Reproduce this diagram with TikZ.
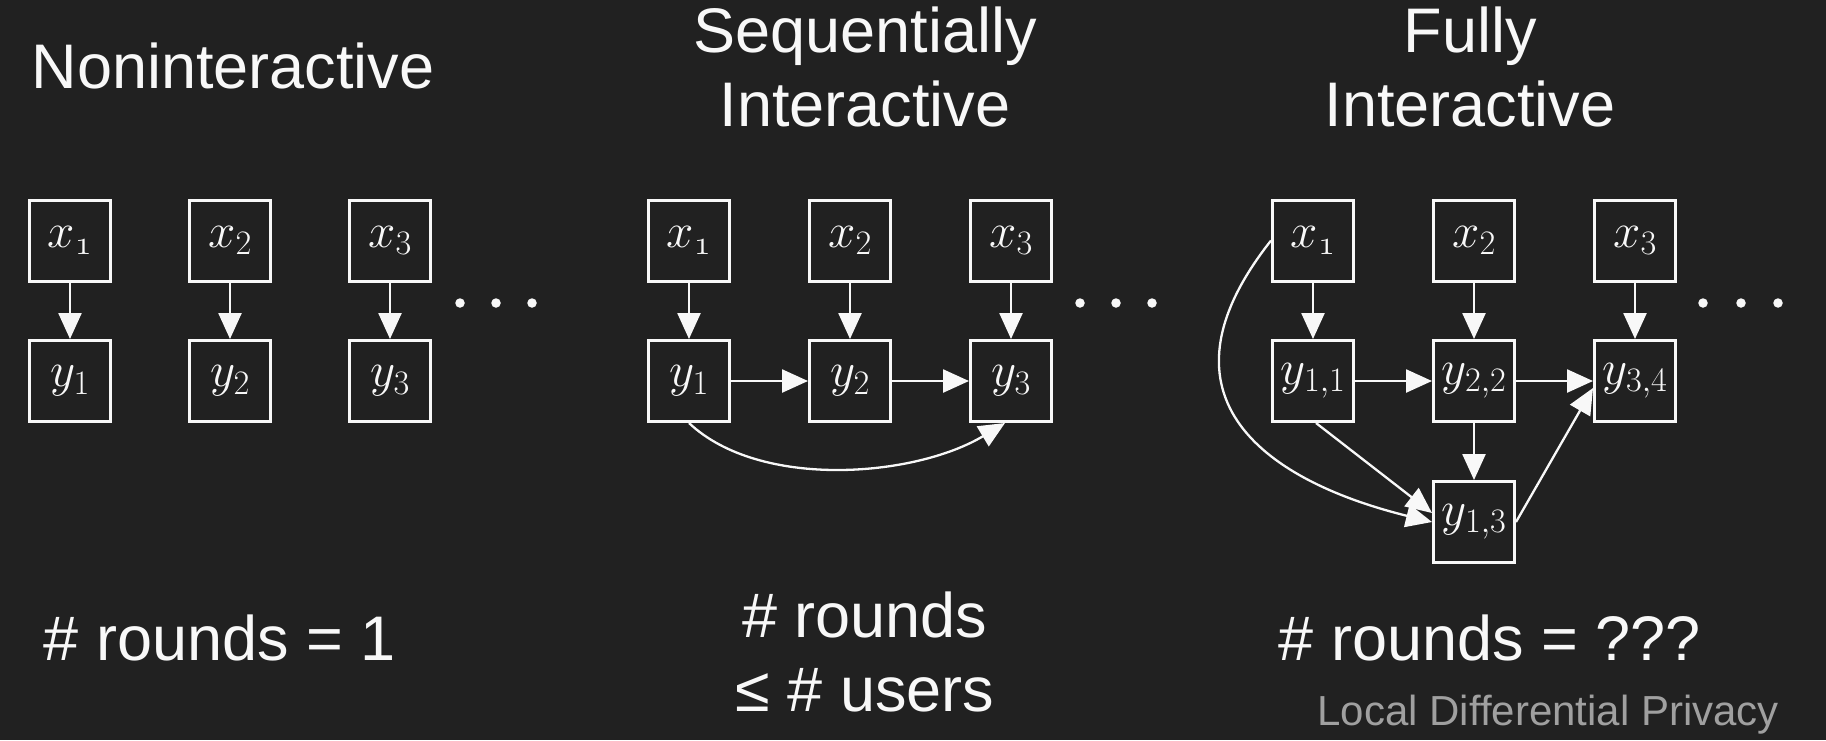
\RequirePackage{fix-cm}
\documentclass[tikz,border=0pt]{standalone}
\usepackage[no-math]{fontspec}
\setmainfont{Liberation Sans}
\usetikzlibrary{arrows.meta}
\definecolor{bg}{RGB}{33,33,33}
\definecolor{fg}{RGB}{248,248,248}
\definecolor{capc}{RGB}{160,160,160}
\begin{document}
\begin{tikzpicture}[x=1pt,y=-1pt,
  box/.style={draw=fg, line width=3pt, fill=bg, text=fg, minimum width=81pt, minimum height=81pt, inner sep=0pt, font=\fontsize{49}{54}\selectfont},
  arr/.style={draw=fg, line width=2.5pt, -{Triangle[length=26pt,width=23pt]}},
  carr/.style={draw=fg, line width=2.3pt, -{Triangle[length=26pt,width=23pt]}},
  title/.style={text=fg, font=\fontsize{63}{74}\selectfont, anchor=base, inner sep=0pt},
  dotn/.style={circle, fill=fg, minimum size=9.5pt, inner sep=0pt}]
\fill[bg] (0,0) rectangle (1826,740);
\useasboundingbox (0,0) rectangle (1826,740);

% ---------- Noninteractive ----------
\node[title] (ta) at (233,88) {Noninteractive};
\node[box] (a-x1) at (70,240.5) {$x_{\mathnormal{1}}$};
\node[box] (a-x2) at (230,240.5) {$x_2$};
\node[box] (a-x3) at (390,240.5) {$x_3$};
\node[box] (a-y1) at (70,381) {$y_1$};
\node[box] (a-y2) at (230,381) {$y_2$};
\node[box] (a-y3) at (390,381) {$y_3$};
\draw[arr] (a-x1) -- (a-y1);
\draw[arr] (a-x2) -- (a-y2);
\draw[arr] (a-x3) -- (a-y3);
\node[dotn] (a-d1) at (460,303) {};
\node[dotn] (a-d2) at (496,303) {};
\node[dotn] (a-d3) at (532,303) {};
\node[title] (ra) at (220,660) {\# rounds = 1};

% ---------- Sequentially Interactive ----------
\node[title] (tb1) at (865,52) {Sequentially};
\node[title] (tb2) at (865,126) {Interactive};
\node[box] (b-x1) at (689,240.5) {$x_{\mathnormal{1}}$};
\node[box] (b-x2) at (850,240.5) {$x_2$};
\node[box] (b-x3) at (1011,240.5) {$x_3$};
\node[box] (b-y1) at (689,381) {$y_1$};
\node[box] (b-y2) at (850,381) {$y_2$};
\node[box] (b-y3) at (1011,381) {$y_3$};
\draw[arr] (b-x1) -- (b-y1);
\draw[arr] (b-x2) -- (b-y2);
\draw[arr] (b-x3) -- (b-y3);
\draw[arr] (b-y1) -- (b-y2);
\draw[arr] (b-y2) -- (b-y3);
\draw[carr] (b-y1.south) .. controls (760,490) and (915,477) .. ([xshift=-6pt]b-y3.south);
\node[dotn] (b-d1) at (1080,303) {};
\node[dotn] (b-d2) at (1116,303) {};
\node[dotn] (b-d3) at (1152,303) {};
\node[title] (rb1) at (865,637) {\# rounds};
\node[title] (rb2) at (865,711) {≤ \# users};

% ---------- Fully Interactive ----------
\node[title] (tc1) at (1470,52) {Fully};
\node[title] (tc2) at (1470,126) {Interactive};
\node[box] (c-x1) at (1313,240.5) {$x_{\mathnormal{1}}$};
\node[box] (c-x2) at (1474,240.5) {$x_2$};
\node[box] (c-x3) at (1635,240.5) {$x_3$};
\node[box] (c-y11) at (1313,381) {$y_{1,1}$};
\node[box] (c-y22) at (1474,381) {$y_{2,2}$};
\node[box] (c-y34) at (1635,381) {$y_{3,4}$};
\node[box] (c-y13) at (1474,522) {$y_{1,3}$};
\draw[arr] (c-x1) -- (c-y11);
\draw[arr] (c-x2) -- (c-y22);
\draw[arr] (c-x3) -- (c-y34);
\draw[arr] (c-y11) -- (c-y22);
\draw[arr] (c-y22) -- (c-y34);
\draw[arr] (c-y22) -- (c-y13);
\draw[carr] ([xshift=3pt]c-y11.south) -- ([yshift=9pt]c-y13.west);
\draw[carr] (c-x1.west) .. controls (1145,400) and (1270,482) .. (c-y13.west);
\draw[carr] (c-y13.east) -- ([yshift=-7pt]c-y34.west);
\node[dotn] (c-d1) at (1703,303) {};
\node[dotn] (c-d2) at (1741,303) {};
\node[dotn] (c-d3) at (1778,303) {};
\node[title] (rc) at (1490,660) {\# rounds = ???};
\node[anchor=base east, inner sep=0pt, text=capc, font=\fontsize{42}{48}\selectfont] (ldp) at (1779,725) {Local Differential Privacy};
\end{tikzpicture}
\end{document}
